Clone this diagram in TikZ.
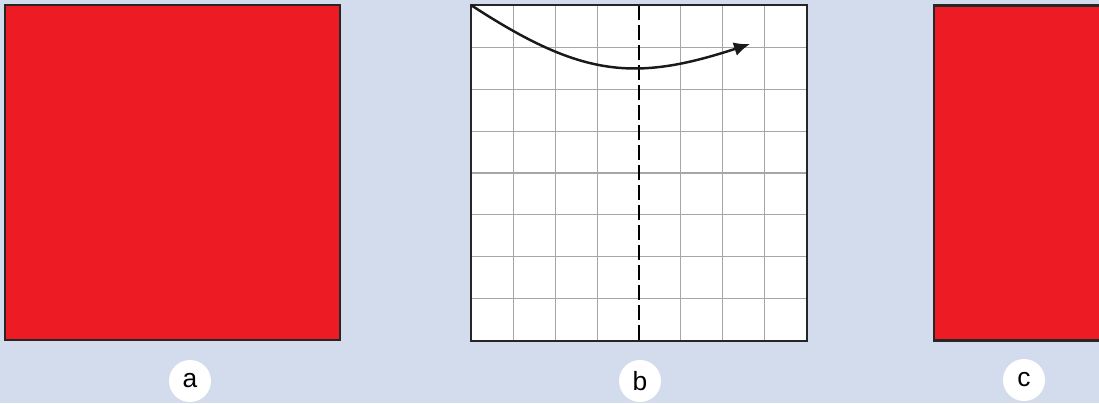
\documentclass[tikz,border=0pt]{standalone}
\usepackage{fontspec}
\setsansfont{Liberation Sans}
\usepackage{xcolor}
\usepackage{tikz}
\usetikzlibrary{arrows.meta, calc, positioning}
\definecolor{paperblue}{HTML}{D3DCEC}
\definecolor{sheetred}{HTML}{ED1C24}
\tikzset{
  sheetbox/.style={
    draw=black!85, line width=1.2pt, fill=sheetred,
    minimum width=6.7cm, minimum height=6.7cm, inner sep=0pt
  },
  gridsheet/.style={
    fill=white, minimum width=6.7cm, minimum height=6.7cm, inner sep=0pt
  },
  gridline/.style={draw=gray!70, line width=0.6pt},
  foldline/.style={draw=black, line width=1.2pt, dash pattern=on 3mm off 1mm},
  foldarrow/.style={-{Latex[length=3.2mm, width=2.8mm]}, line width=1.4pt, black!90},
  sheetlabel/.style={
    circle, fill=white, minimum size=0.84cm, inner sep=0pt,
    font=\sffamily\fontsize{15}{17}\selectfont
  },
}

\begin{document}
\begin{tikzpicture}[x=0.02cm, y=-0.02cm]
  % Background
  \useasboundingbox (0,0) rectangle (1099,403);
  \clip (0,0) rectangle (1099,403);
  \fill[paperblue] (0,0) rectangle (1099,403);

  % ---- a: plain red sheet ----
  \node[sheetbox] (sheeta) at (172.5,172.5) {};
  \node[sheetlabel] (labela) at (190,381) {a};

  % ---- b: squared sheet with fold line ----
  \node[gridsheet] (sheetb) at (639,173) {};
  \foreach \i in {1,...,7} {
    \draw[gridline] ($(sheetb.north west)!\i/8!(sheetb.south west)$)
      -- ($(sheetb.north east)!\i/8!(sheetb.south east)$);
    \ifnum\i=4\else
      \draw[gridline] ($(sheetb.north west)!\i/8!(sheetb.north east)$)
        -- ($(sheetb.south west)!\i/8!(sheetb.south east)$);
    \fi
  }
  \draw[foldline] (sheetb.north) -- (sheetb.south);
  \draw[line width=1.2pt, black!85] (sheetb.north west) rectangle (sheetb.south east);

  % Fold arrow
  \coordinate (foldtip) at (750,44);
  \draw[foldarrow] (sheetb.north west) .. controls (581,77) and (634,82) .. (foldtip);
  \node[sheetlabel] (labelb) at (640,381) {b};

  % ---- c: red sheet, cut at the edge ----
  \node[sheetbox] (sheetc) at (1101.5,173) {};
  \node[sheetlabel] (labelc) at (1024,380) {c};
\end{tikzpicture}
\end{document}
